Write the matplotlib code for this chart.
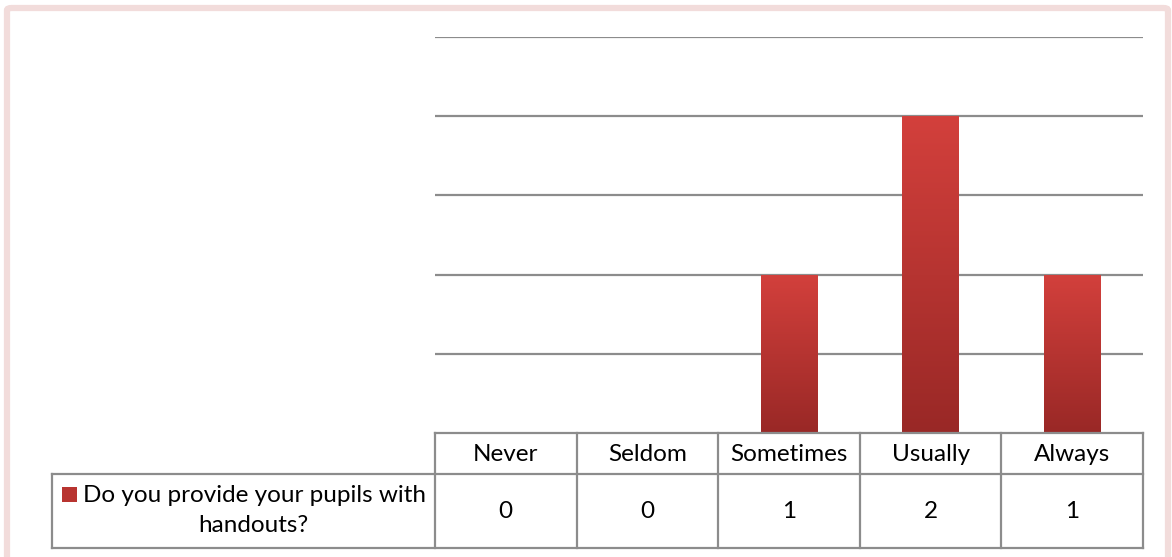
import numpy as np
import matplotlib
matplotlib.use("Agg")
import matplotlib.pyplot as plt
from matplotlib.patches import Rectangle, FancyBboxPatch
from matplotlib.lines import Line2D

categories = ["Never", "Seldom", "Sometimes", "Usually", "Always"]
values = [0, 0, 1, 2, 1]
series_label = "Do you provide your pupils with\nhandouts?"

W, H = 1172, 557
fig = plt.figure(figsize=(W / 100, H / 100), dpi=100)
fig.patch.set_facecolor("white")

def fx(px):
    return px / W

def fy(py):
    return 1 - py / H

# outer pink border
border = FancyBboxPatch((fx(7), fy(600)), fx(1168) - fx(7), fy(8) - fy(600),
                        boxstyle="round,pad=0,rounding_size=0.004",
                        transform=fig.transFigure, fill=False,
                        edgecolor="#F2DCDB", linewidth=4.5, zorder=0)
fig.add_artist(border)

left, right, top, bottom = 435, 1143, 37, 433
ax = fig.add_axes([fx(left), fy(bottom), fx(right) - fx(left), fy(top) - fy(bottom)])
ax.set_xlim(-0.5, len(categories) - 0.5)
ax.set_ylim(0, 2.5)
for s in ax.spines.values():
    s.set_visible(False)
ax.set_xticks([])
ax.set_yticks([0.5, 1.0, 1.5, 2.0, 2.5])
ax.tick_params(left=False, labelleft=False)
ax.yaxis.grid(True, color="#8C8C8C", linewidth=1.6)
ax.set_axisbelow(True)

grad = np.linspace(0, 1, 256).reshape(-1, 1)
cmap = matplotlib.colors.LinearSegmentedColormap.from_list("g", ["#992826", "#D3403C"])
x = np.arange(len(categories))
bars = ax.bar(x, values, width=0.4, facecolor="none", edgecolor="none", zorder=3)
for b, v in zip(bars, values):
    if v <= 0:
        continue
    im = ax.imshow(grad, cmap=cmap, aspect="auto", origin="lower",
                   extent=[b.get_x(), b.get_x() + b.get_width(), 0, v], zorder=3)
    im.set_clip_path(b)
ax.set_xlim(-0.5, len(categories) - 0.5)
ax.set_ylim(0, 2.5)

# data table
lc = "#8C8C8C"
lw = 1.6
row1_top, row1_bot, row2_bot = 433, 474, 548
tleft = 52
def hline(y, x0, x1):
    fig.add_artist(Line2D([fx(x0), fx(x1)], [fy(y), fy(y)], transform=fig.transFigure,
                          color=lc, linewidth=lw))
def vline(xp, y0, y1):
    fig.add_artist(Line2D([fx(xp), fx(xp)], [fy(y0), fy(y1)], transform=fig.transFigure,
                          color=lc, linewidth=lw))

hline(row1_top, left, right)
hline(row1_bot, tleft, right)
hline(row2_bot, tleft, right)
vline(tleft, row1_bot, row2_bot)
ncat = len(categories)
colw = (right - left) / ncat
for i in range(ncat + 1):
    vline(left + i * colw, row1_top, row2_bot)

font = "Lato"
fs = 17.5
for i, (c, v) in enumerate(zip(categories, values)):
    cx = left + (i + 0.5) * colw
    fig.text(fx(cx), fy((row1_top + row1_bot) / 2 + 1), c, ha="center", va="center",
             fontsize=fs, family=font, color="black")
    fig.text(fx(cx), fy((row1_bot + row2_bot) / 2 + 1), str(v), ha="center", va="center",
             fontsize=fs, family=font, color="black")

# legend key + row label
lines = series_label.split("\n")
key = Rectangle((fx(62), fy(502)), fx(15), fy(487) - fy(502), transform=fig.transFigure,
                facecolor="#B83430", edgecolor="none")
fig.add_artist(key)
fig.text(fx(83), fy(495), lines[0], ha="left", va="center", fontsize=fs, family=font)
fig.text(fx((tleft + left) / 2 + 10), fy(526), lines[1], ha="center", va="center",
         fontsize=fs, family=font)

fig.savefig("out.png", dpi=100)
